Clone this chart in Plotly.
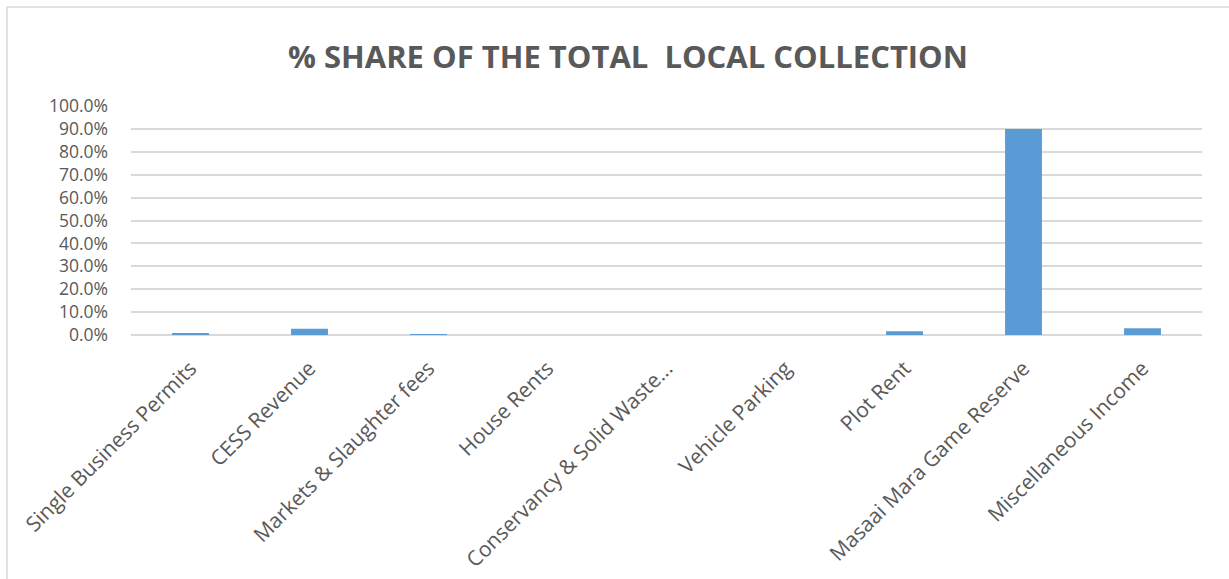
import plotly.graph_objects as go

categories = ["Single Business Permits", "CESS Revenue", "Markets & Slaughter fees",
              "House Rents", "Conservancy & Solid Waste...", "Vehicle Parking",
              "Plot Rent", "Masaai Mara Game Reserve", "Miscellaneous Income"]
share = [0.008, 0.027, 0.003, 0.0, 0.0, 0.0, 0.016, 0.900, 0.030]
y_ticks = [i / 10 for i in range(11)]
y_tick_labels = [f"{v*100:.1f}%" for v in y_ticks]

W, H = 1229, 579
L, R, T, B = 131, 27, 106, 244
pw, ph = W - L - R, H - T - B

fig = go.Figure(go.Bar(
    x=categories, y=share,
    marker=dict(color="#5b9bd5", line=dict(width=0)),
))

grey = "#595959"
fig.update_layout(
    width=W, height=H,
    margin=dict(l=L, r=R, t=T, b=B, autoexpand=False),
    paper_bgcolor="white", plot_bgcolor="white",
    bargap=0.69,
    showlegend=False,
    title=dict(text="<b>% SHARE OF THE TOTAL  LOCAL COLLECTION</b>",
               x=628 / W, xanchor="center", y=1 - 57 / H, yanchor="middle",
               font=dict(family="Open Sans, sans-serif", size=31, color=grey)),
    font=dict(family="Open Sans, sans-serif", color=grey),
    xaxis=dict(tickangle=-45, tickfont=dict(size=21, color=grey),
               showgrid=False, showline=False, ticks="", ticklabelstandoff=16),
    yaxis=dict(range=[0, 1.0], tickvals=y_ticks, ticktext=y_tick_labels,
               tickfont=dict(size=17.5, color=grey), gridcolor="#d9d9d9", gridwidth=1.5,
               zeroline=True, zerolinecolor="#d9d9d9", zerolinewidth=1.5,
               showline=False, ticks="", ticklabelstandoff=22),
)

# chart frame (left and top border lines)
x0 = (7 - L) / pw
y1 = (H - B - 7) / ph
fig.add_shape(type="line", xref="paper", yref="paper", x0=x0, x1=x0, y0=-2, y1=y1,
              line=dict(color="#d9d9d9", width=1.5))
fig.add_shape(type="line", xref="paper", yref="paper", x0=x0, x1=1.2, y0=y1, y1=y1,
              line=dict(color="#d9d9d9", width=1.5))

fig.write_html("out.html")
